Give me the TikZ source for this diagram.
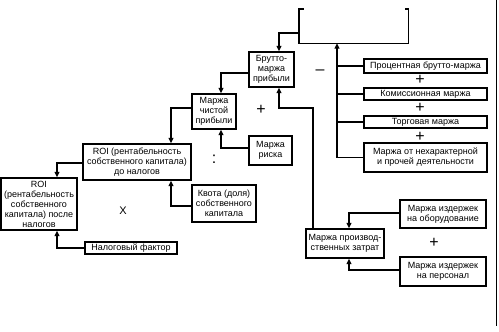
\documentclass[tikz,border=0pt]{standalone}
\usepackage{fontspec}
\setmainfont{Liberation Sans}
\usetikzlibrary{arrows.meta}
\tikzset{
  box/.style={draw, line width=1.4pt, inner sep=0pt, align=center,
    font=\fontsize{9}{10}\selectfont},
  conn/.style={line width=1.3pt},
  arr/.style={conn, -{Triangle[length=5.5pt,width=5pt]}},
  sign/.style={font=\fontsize{16}{16}\selectfont, inner sep=0pt},
}
\begin{document}
\begin{tikzpicture}[x=1pt,y=-1pt]
\useasboundingbox (0,0) rectangle (499,332);
% boxes
\node[box, minimum width=45pt, minimum height=35pt] (br) at (271.5,69.5) {Брутто-\\маржа\\прибыли};
\node[box, minimum width=44pt, minimum height=35pt] (mch) at (214,111.5) {Маржа\\чистой\\прибыли};
\node[box, minimum width=43pt, minimum height=29pt] (mr) at (270.5,150.5) {Маржа\\риска};
\node[box, minimum width=108pt, minimum height=36pt] (roid) at (137,162) {ROI (рентабельность\\собственного капитала)\\до налогов};
\node[box, minimum width=76pt, minimum height=52pt] (roip) at (39,204) {ROI\\(рентабельность\\собственного\\капитала) после\\налогов};
\node[box, minimum width=92pt, minimum height=12pt] (nf) at (131,248) {Налоговый фактор};
\node[box, minimum width=64pt, minimum height=37pt] (kv) at (224,203.5) {Квота (доля)\\собственного\\капитала};
\node[box, minimum width=123pt, minimum height=14pt] (p1) at (425.5,66) {Процентная брутто-маржа};
\node[box, minimum width=123pt, minimum height=12pt] (p2) at (425.5,94) {Комиссионная маржа};
\node[box, minimum width=123pt, minimum height=12pt] (p3) at (425.5,122) {Торговая маржа};
\node[box, minimum width=123pt, minimum height=29pt] (p4) at (425.5,157.5) {Маржа от нехарактерной\\и прочей деятельности};
\node[box, minimum width=78pt, minimum height=29pt] (mpz) at (345,243.5) {Маржа производ-\\ственных затрат};
\node[box, minimum width=86pt, minimum height=28pt] (mio) at (443,214) {Маржа издержек\\на оборудование};
\node[box, minimum width=86pt, minimum height=29pt] (mip) at (443,271.5) {Маржа издержек\\на персонал};
% open top box
\node[inner sep=0pt, minimum width=109pt, minimum height=34pt] (top) at (353.5,26) {};
\draw[line width=1.4pt] ([xshift=5pt]top.north west) -- (top.north west) -- (top.south west)
  -- (top.south east) -- (top.north east) -- ([xshift=-3pt]top.north east);
% coordinates
\coordinate (c1) at (279,33);
\coordinate (c2) at (313,108);
\coordinate (c3) at (279,108);
\coordinate (c4) at (221,73);
\coordinate (c5) at (221,148);
\coordinate (c6) at (171,108);
\coordinate (c7) at (171,206);
\coordinate (c8) at (57,163);
\coordinate (c9) at (57,248);
\coordinate (bus) at (337,157);
\coordinate (c10) at (349,213);
\coordinate (c11) at (349,270);
% connectors
\draw[arr] (top.west |- c1) -- (c1) -- (c1 |- br.north);
\draw[arr] (c2 |- mpz.north) -- (c2) -- (c3) -- (c3 |- br.south);
\draw[arr] (br.west |- c4) -- (c4) -- (c4 |- mch.north);
\draw[arr] (mr.west |- c5) -- (c5) -- (c5 |- mch.south);
\draw[arr] (mch.west |- c6) -- (c6) -- (c6 |- roid.north);
\draw[arr] (kv.west |- c7) -- (c7) -- (c7 |- roid.south);
\draw[arr] (roid.west |- c8) -- (c8) -- (c8 |- roip.north);
\draw[arr] (nf.west |- c9) -- (c9) -- (c9 |- roip.south);
\draw[arr] (p4.west -| bus) -- (bus |- top.south);
\draw[conn] (p4.west -| bus) -- (p4.west);
\draw[conn] (p3.west -| bus) -- (p3.west);
\draw[conn] (p2.west -| bus) -- (p2.west);
\draw[conn] (p1.west -| bus) -- (p1.west);
\draw[arr] (mio.west |- c10) -- (c10) -- (c10 |- mpz.north);
\draw[arr] (mip.west |- c11) -- (c11) -- (c11 |- mpz.south);
% signs
\node[sign] (s1) at (261,110) {+};
\node[sign] (s2) at (320,72) {–};
\node[sign] (s3) at (214,159) {:};
\node[font=\fontsize{11}{11}\selectfont] (s4) at (123,211) {X};
\node[sign] (s5) at (420,80) {+};
\node[sign] (s6) at (420,108) {+};
\node[sign] (s7) at (420,137) {+};
\node[sign] (s8) at (434,243) {+};
% right edge rule
\coordinate (e1) at (496,0);
\coordinate (e2) at (496,326);
\draw[line width=0.8pt] (e1) -- (e2);
\end{tikzpicture}
\end{document}
